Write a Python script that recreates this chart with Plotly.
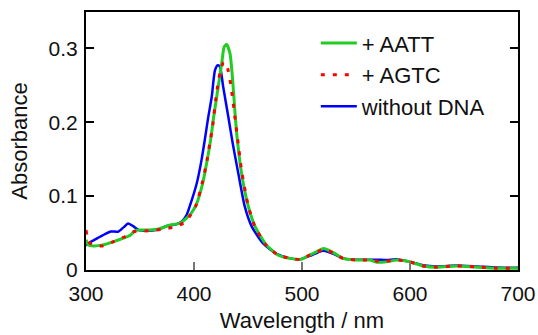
import plotly.graph_objects as go

wl_blue = [300, 303, 307, 313, 318, 323, 330, 335, 339, 344, 349, 356, 365, 375, 384, 389, 393, 396,
           402.5, 407, 410, 413, 416.4, 419.4, 422, 424, 427, 431.8, 436, 441, 447, 453.4, 464, 476.5,
           489, 498, 507, 515, 520, 529, 538, 550, 563, 570, 578, 587, 592, 600, 612, 625, 643, 662, 680, 700]
abs_blue = [0.033, 0.037, 0.040, 0.045, 0.049, 0.052, 0.052, 0.058, 0.063, 0.059, 0.054, 0.053, 0.054,
            0.0595, 0.062, 0.066, 0.074, 0.086, 0.117, 0.149, 0.176, 0.205, 0.234, 0.270, 0.277, 0.275,
            0.248, 0.207, 0.170, 0.131, 0.086, 0.059, 0.036, 0.022, 0.0157, 0.0144, 0.019, 0.024, 0.026,
            0.022, 0.0157, 0.014, 0.014, 0.014, 0.0135, 0.0145, 0.0135, 0.011, 0.0065, 0.0048, 0.006,
            0.0048, 0.0035, 0.003]

wl_green = [300, 302, 307, 316, 325, 334.5, 341, 345, 350, 359, 368.5, 378, 387, 393, 397, 402, 408,
            412.3, 415.4, 418, 421, 425.6, 428, 430.2, 433.3, 435.8, 438, 440, 444, 450.3, 456.5, 467,
            478, 489, 499, 507, 515, 520, 529, 538, 550, 563, 569, 578, 588, 600, 612, 625, 643, 662, 680, 700]
abs_green = [0.041, 0.034, 0.0325, 0.034, 0.038, 0.043, 0.047, 0.053, 0.054, 0.054, 0.056, 0.061, 0.063,
             0.070, 0.076, 0.088, 0.117, 0.149, 0.176, 0.205, 0.234, 0.279, 0.302, 0.305, 0.293, 0.257,
             0.212, 0.178, 0.131, 0.086, 0.059, 0.034, 0.020, 0.0157, 0.0144, 0.020, 0.026, 0.029, 0.0235,
             0.0157, 0.0135, 0.0135, 0.0105, 0.011, 0.0135, 0.011, 0.0055, 0.0038, 0.0055, 0.0038, 0.0025, 0.0022]

wl_red = [300, 302, 304, 310, 315, 325, 336, 345, 358, 370, 382, 392, 397, 402, 408, 412, 414.8, 417,
          418.5, 420, 421.8, 424, 427, 429, 431.8, 434, 435.8, 437.3, 438.9, 440.4, 444, 450, 456, 466,
          477, 489, 499, 507, 515, 520, 529, 538, 550, 563, 570, 578, 588, 600, 612, 625, 643, 662, 680, 700]
abs_red = [0.054, 0.040, 0.036, 0.033, 0.0325, 0.038, 0.045, 0.052, 0.053, 0.055, 0.058, 0.065, 0.075,
           0.088, 0.120, 0.148, 0.173, 0.192, 0.210, 0.229, 0.248, 0.266, 0.280, 0.281, 0.269, 0.251,
           0.232, 0.214, 0.195, 0.177, 0.135, 0.088, 0.060, 0.035, 0.021, 0.0157, 0.0144, 0.020, 0.025,
           0.028, 0.023, 0.0157, 0.0135, 0.0135, 0.012, 0.012, 0.0135, 0.011, 0.0055, 0.0038, 0.0055,
           0.004, 0.0025, 0.0022]

x_ticks = [300, 400, 500, 600, 700]
y_ticks = [0, 0.1, 0.2, 0.3]
y_tick_text = ["0", "0.1", "0.2", "0.3"]

FONT = "Arial, 'Liberation Sans', sans-serif"

fig = go.Figure()
fig.add_trace(go.Scatter(x=wl_blue, y=abs_blue, mode="lines", name="without DNA",
                         line=dict(color="#0000ff", width=2.5, shape="spline", smoothing=0.6),
                         legendgroup="c", legendrank=3))
fig.add_trace(go.Scatter(x=wl_green, y=abs_green, mode="lines", name="+ AATT",
                         line=dict(color="#22cc22", width=3, shape="spline", smoothing=0.6),
                         legendgroup="a", legendrank=1))
fig.add_trace(go.Scatter(x=wl_red, y=abs_red, mode="lines", name="+ AGTC",
                         line=dict(color="#ff0000", width=3, dash="4px,8px", shape="spline", smoothing=0.6),
                         legendgroup="b", legendrank=2))

fig.update_layout(
    width=538, height=335,
    margin=dict(l=86, r=20, t=12, b=65, autoexpand=False),
    paper_bgcolor="white", plot_bgcolor="white",
    font=dict(family=FONT, size=21, color="#111111"),
    legend=dict(x=0.532, y=0.96, xanchor="left", yanchor="top", bgcolor="rgba(0,0,0,0)",
                traceorder="grouped", tracegroupgap=0, itemwidth=36, font=dict(size=22)),
    xaxis=dict(range=[300, 700], tickvals=x_ticks, ticks="inside", ticklen=8, tickwidth=1.5,
               tickcolor="#777777", showline=True, linecolor="black", linewidth=2, mirror=True,
               showgrid=False, zeroline=False, ticklabelstandoff=4, tickfont=dict(size=21),
               title=dict(text="Wavelength / nm", standoff=8, font=dict(size=22))),
    yaxis=dict(range=[0, 0.349], tickvals=y_ticks, ticktext=y_tick_text, ticks="inside", ticklen=8,
               tickwidth=1.5, tickcolor="black", showline=True, linecolor="black", linewidth=2,
               mirror="ticks", showgrid=False, zeroline=False, ticklabelstandoff=2,
               tickfont=dict(size=21),
               title=dict(text="Absorbance", standoff=15, font=dict(size=22))),
)

fig.write_html("out.html")
